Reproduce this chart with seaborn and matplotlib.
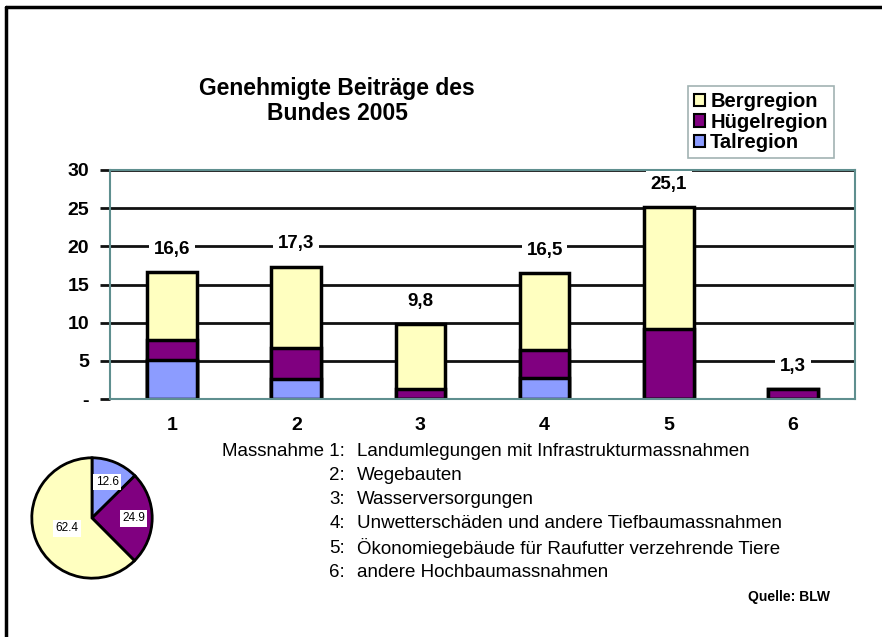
import matplotlib
matplotlib.use("Agg")
import matplotlib.pyplot as plt
import seaborn as sns
import numpy as np
from matplotlib.patches import Patch
from matplotlib.lines import Line2D

# %% Data: Genehmigte Beiträge des Bundes 2005 (Mio. Fr.)
massnahmen = ["1", "2", "3", "4", "5", "6"]
talregion = [5.1, 2.6, 0.0, 2.7, 0.0, 0.0]
huegelregion = [2.6, 4.1, 1.3, 3.7, 9.2, 1.3]
bergregion = [8.9, 10.6, 8.5, 10.1, 15.9, 0.0]

pie_labels = ["Talregion", "Hügelregion", "Bergregion"]
pie_values = [12.6, 24.9, 62.4]

beschreibung = [
    "Landumlegungen mit Infrastrukturmassnahmen",
    "Wegebauten",
    "Wasserversorgungen",
    "Unwetterschäden und andere Tiefbaumassnahmen",
    "Ökonomiegebäude für Raufutter verzehrende Tiere",
    "andere Hochbaumassnahmen",
]

col_berg = "#ffffc0"
col_huegel = "#800080"
col_tal = "#8c9cff"
col_frame = "#5f8f8f"

# %% Style
sns.set_style("white")
plt.rcParams["font.family"] = ["Liberation Sans", "DejaVu Sans"]
plt.rcParams["text.color"] = "black"
plt.rcParams["xtick.color"] = "black"
plt.rcParams["ytick.color"] = "black"

fig = plt.figure(figsize=(8.82, 6.37), dpi=100)
W, H = 882, 637
ax = fig.add_axes([110 / W, 1 - 399 / H, 745 / W, 229 / H])

# stacked bars, drawn as overlapping cumulative sums
tal = np.array(talregion)
huegel = tal + np.array(huegelregion)
total = huegel + np.array(bergregion)

ax.set_axisbelow(True)
for yv in [5, 10, 15, 20, 25, 30]:
    ax.axhline(yv, color="#111111", lw=2, zorder=0)

bar_kw = dict(width=0.4, edgecolor="black", linewidth=2.5, saturation=1, ax=ax, zorder=2)
sns.barplot(x=massnahmen, y=total, color=col_berg, **bar_kw)
sns.barplot(x=massnahmen, y=huegel, color=col_huegel, **bar_kw)
sns.barplot(x=massnahmen, y=tal, color=col_tal, **bar_kw)

for i, t in enumerate(total):
    ax.annotate(f"{t:.1f}".replace(".", ","), xy=(i, t), xytext=(0, 23),
                textcoords="offset pixels", ha="center", va="center",
                fontsize=13.5, fontweight="bold", zorder=5,
                bbox=dict(boxstyle="square,pad=0.25", fc="white", ec="none"))

ax.set_xlim(-0.5, 5.5)
ax.set_ylim(0, 30)
ax.set_yticks([0, 5, 10, 15, 20, 25, 30])
ax.set_yticklabels(["-", "5", "10", "15", "20", "25", "30"], fontsize=14, fontweight="bold")
ax.set_xticks(range(6))
ax.set_xticklabels(massnahmen, fontsize=14, fontweight="bold")
ax.set_xticks(np.arange(-0.5, 6, 1), minor=True)
ax.tick_params(axis="x", which="major", length=0, pad=13)
ax.tick_params(axis="x", which="minor", length=5, color=col_frame, width=1.2)
ax.tick_params(axis="y", length=7, color="#111111", width=2, pad=8, left=True)
for s in ax.spines.values():
    s.set_visible(True)
    s.set_color(col_frame)
    s.set_linewidth(1.5)
ax.set_xlabel("")
ax.set_ylabel("")

# %% Title and legend
fig.text(337 / W, 1 - 101 / H, "Genehmigte Beiträge des\nBundes 2005", ha="center", va="center",
         fontsize=16.5, fontweight="bold", linespacing=1.1)

handles = [Patch(fc=col_berg, ec="black", lw=1.5, label="Bergregion"),
           Patch(fc=col_huegel, ec="black", lw=1.5, label="Hügelregion"),
           Patch(fc=col_tal, ec="black", lw=1.5, label="Talregion")]
leg = fig.legend(handles=handles, loc="upper left", bbox_to_anchor=(688 / W, 1 - 86 / H),
                 prop=dict(size=14.5, weight="bold"), handlelength=0.55, handleheight=0.55,
                 handletextpad=0.25, labelspacing=0.08, borderpad=0.3, borderaxespad=0,
                 fancybox=False)
leg.get_frame().set_edgecolor("#8aa0a0")
leg.get_frame().set_linewidth(1.2)

# %% Pie
pax = fig.add_axes([30 / W, 1 - 580 / H, 124 / W, 124 / H])
wedges, _ = pax.pie(pie_values, colors=[col_tal, col_huegel, col_berg], startangle=90,
                    counterclock=False, wedgeprops=dict(edgecolor="black", linewidth=2))
for w, v, r in zip(wedges, pie_values, [0.65, 0.69, 0.45]):
    ang = np.deg2rad((w.theta1 + w.theta2) / 2)
    pax.text(r * np.cos(ang), r * np.sin(ang), f"{v:.1f}", ha="center", va="center",
             fontsize=8.5, bbox=dict(boxstyle="square,pad=0.2", fc="white", ec="none"))
pax.set_xlim(-1.03, 1.03)
pax.set_ylim(-1.03, 1.03)
pax.set_aspect("equal")

# %% Legend of measures
y0 = 451
for i, txt in enumerate(beschreibung):
    y = 1 - (y0 + i * 24.3) / H
    left = "Massnahme 1:" if i == 0 else f"{i + 1}:"
    fig.text(345 / W, y, left, ha="right", va="center", fontsize=13.5)
    fig.text(357 / W, y, txt, ha="left", va="center", fontsize=13.5)

fig.text(830 / W, 1 - 597 / H, "Quelle: BLW", ha="right", va="center", fontsize=10, fontweight="bold")

# page frame (top and left edge)
fig.add_artist(Line2D([6 / W, 1], [1 - 7 / H, 1 - 7 / H], color="black", lw=2.5, transform=fig.transFigure))
fig.add_artist(Line2D([6 / W, 6 / W], [0, 1 - 7 / H], color="black", lw=2.5, transform=fig.transFigure))

fig.savefig("out.png", dpi=100)
